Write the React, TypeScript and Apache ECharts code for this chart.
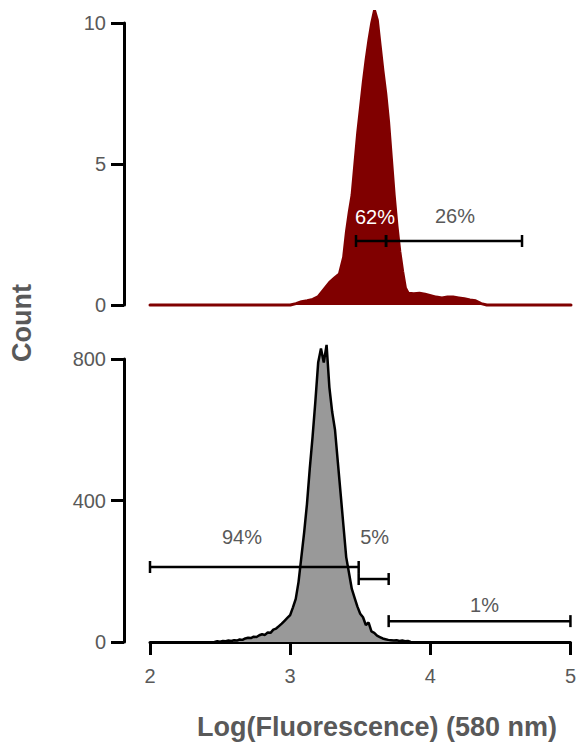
import React, { useEffect, useRef } from "react";
import * as echarts from "echarts";

// Top panel (red histogram)
const topX = [2.0, 3.0, 3.04, 3.08, 3.12, 3.16, 3.2, 3.24, 3.28, 3.32, 3.35, 3.38, 3.4, 3.42, 3.44, 3.46, 3.48, 3.5, 3.52, 3.54, 3.56, 3.58, 3.6, 3.62, 3.64, 3.66, 3.68, 3.7, 3.72, 3.74, 3.76, 3.78, 3.8, 3.82, 3.84, 3.88, 3.92, 3.96, 4.0, 4.04, 4.08, 4.12, 4.16, 4.2, 4.24, 4.28, 4.32, 4.36, 4.4, 5.0];
const topY = [0, 0, 0.05, 0.12, 0.15, 0.2, 0.3, 0.55, 0.8, 0.98, 1.1, 1.7, 2.6, 3.3, 3.9, 5.0, 6.1, 7.0, 7.9, 8.7, 9.4, 10.0, 10.45, 10.1, 9.2, 8.3, 7.5, 6.5, 5.2, 3.9, 2.8, 1.9, 1.2, 0.6, 0.42, 0.4, 0.42, 0.38, 0.33, 0.28, 0.25, 0.28, 0.28, 0.25, 0.22, 0.18, 0.15, 0.05, 0, 0];

// Bottom panel (grey histogram)
const botX = [2.46, 2.48, 2.5, 2.52, 2.54, 2.56, 2.58, 2.6, 2.62, 2.64, 2.66, 2.68, 2.7, 2.72, 2.74, 2.76, 2.78, 2.8, 2.82, 2.84, 2.86, 2.88, 2.9, 2.92, 2.94, 2.96, 2.98, 3.0, 3.02, 3.04, 3.06, 3.08, 3.1, 3.12, 3.14, 3.16, 3.18, 3.2, 3.22, 3.24, 3.26, 3.28, 3.3, 3.32, 3.34, 3.36, 3.38, 3.4, 3.42, 3.44, 3.46, 3.48, 3.5, 3.52, 3.54, 3.56, 3.58, 3.6, 3.62, 3.64, 3.66, 3.68, 3.7, 3.72, 3.74, 3.76, 3.78, 3.8, 3.82, 3.84, 3.86];
const botY = [0, 2, 1, 3, 2, 4, 3, 5, 4, 7, 6, 10, 12, 11, 15, 14, 19, 22, 20, 27, 26, 35, 38, 45, 52, 60, 68, 76, 98, 122, 170, 240, 310, 390, 490, 580, 680, 790, 830, 790, 840, 720, 650, 600, 510, 420, 330, 240, 195, 150, 125, 100, 80, 70, 48, 55, 30, 26, 18, 14, 10, 8, 6, 5, 4, 5, 3, 4, 2, 3, 0];

// Gates: [start, end, height]
const topGates = [
  [3.468, 3.682, 2.27],
  [3.682, 4.651, 2.27],
];
const botGates = [
  [2.0, 3.489, 212],
  [3.489, 3.703, 178],
  [3.703, 5.0, 59],
];

// Gate labels: [x, y, text, color]
const topLabels: [number, number, string, string][] = [
  [3.603, 3.12, "62%", "#ffffff"],
  [4.173, 3.16, "26%", "#595959"],
];
const botLabels: [number, number, string, string][] = [
  [2.656, 297, "94%", "#595959"],
  [3.603, 297, "5%", "#595959"],
  [4.387, 105, "1%", "#595959"],
];

const xTicks = [2, 5, 1]; // min, max, interval
const topYTicks = [0, 10, 5];
const botYTicks = [0, 800, 400];

const FONT = "'Liberation Sans', Arial, sans-serif";
const GREY = "#595959";

export default function App() {
  const ref = useRef<HTMLDivElement>(null);
  useEffect(() => {
    if (!ref.current) return;
    const chart = echarts.init(ref.current, undefined, { renderer: "svg" });

    const yAxisBase = (idx: number, ticks: number[]) => ({
      type: "value",
      gridIndex: idx,
      min: ticks[0],
      max: ticks[1],
      interval: ticks[2],
      offset: 26,
      axisLine: { show: true, lineStyle: { color: "#000", width: 3 } },
      axisTick: { show: true, length: 13, lineStyle: { color: "#000", width: 3 } },
      axisLabel: { color: GREY, fontSize: 20, fontFamily: FONT, margin: 18 },
      splitLine: { show: false },
    });

    const gateSeries = (gates: number[][], idx: number) =>
      gates.map((g) => ({
        type: "line",
        xAxisIndex: idx,
        yAxisIndex: idx,
        data: [
          [g[0], g[2]],
          [g[1], g[2]],
        ],
        symbol: "rect",
        symbolSize: [2.5, 12],
        showSymbol: true,
        itemStyle: { color: "#000" },
        lineStyle: { color: "#000", width: 2.5 },
        z: 5,
        clip: false,
        silent: true,
      }));

    const labelSeries = (labels: [number, number, string, string][], idx: number) => ({
      type: "scatter",
      xAxisIndex: idx,
      yAxisIndex: idx,
      symbolSize: 1,
      itemStyle: { color: "rgba(0,0,0,0)" },
      z: 6,
      silent: true,
      data: labels.map((l) => ({
        value: [l[0], l[1]],
        label: {
          show: true,
          position: "inside",
          formatter: l[2],
          color: l[3],
          opacity: 1,
          fontSize: 20,
          fontFamily: FONT,
        },
      })),
    });

    chart.setOption({
      animation: false,
      grid: [
        { left: 150, right: 8, top: 23, height: 282 },
        { left: 150, right: 8, top: 359, height: 283 },
      ],
      xAxis: [
        {
          type: "value",
          gridIndex: 0,
          min: xTicks[0],
          max: xTicks[1],
          interval: xTicks[2],
          show: false,
        },
        {
          type: "value",
          gridIndex: 1,
          min: xTicks[0],
          max: xTicks[1],
          interval: xTicks[2],
          axisLine: { show: true, lineStyle: { color: "#000", width: 3 } },
          axisTick: { show: true, length: 13, lineStyle: { color: "#000", width: 3 } },
          axisLabel: { color: GREY, fontSize: 20, fontFamily: FONT, margin: 24 },
          splitLine: { show: false },
        },
      ],
      yAxis: [yAxisBase(0, topYTicks), yAxisBase(1, botYTicks)],
      series: [
        {
          type: "line",
          xAxisIndex: 0,
          yAxisIndex: 0,
          data: topX.map((x, i) => [x, topY[i]]),
          showSymbol: false,
          symbol: "none",
          clip: false,
          lineStyle: { color: "#800000", width: 3, cap: "round" },
          areaStyle: { color: "#800000", opacity: 1 },
          z: 2,
        },
        {
          type: "line",
          xAxisIndex: 1,
          yAxisIndex: 1,
          data: botX.map((x, i) => [x, botY[i]]),
          showSymbol: false,
          symbol: "none",
          clip: false,
          lineStyle: { color: "#000", width: 2.5 },
          areaStyle: { color: "#999999", opacity: 1 },
          z: 2,
        },
        ...gateSeries(topGates, 0),
        ...gateSeries(botGates, 1),
        labelSeries(topLabels, 0),
        labelSeries(botLabels, 1),
      ],
      graphic: [
        {
          type: "text",
          x: 377,
          y: 727,
          style: {
            text: "Log(Fluorescence) (580 nm)",
            fontSize: 27,
            fontWeight: "bold",
            fontFamily: FONT,
            fill: GREY,
            textAlign: "center",
            textVerticalAlign: "middle",
          },
        },
        {
          type: "text",
          x: 22,
          y: 323,
          rotation: Math.PI / 2,
          style: {
            text: "Count",
            fontSize: 27,
            fontWeight: "bold",
            fontFamily: FONT,
            fill: GREY,
            textAlign: "center",
            textVerticalAlign: "middle",
          },
        },
      ],
    });
    return () => chart.dispose();
  }, []);
  return (
    <div
      ref={ref}
      style={{ position: "fixed", left: 0, top: 0, width: 579, height: 747, background: "#fff" }}
    />
  );
}
